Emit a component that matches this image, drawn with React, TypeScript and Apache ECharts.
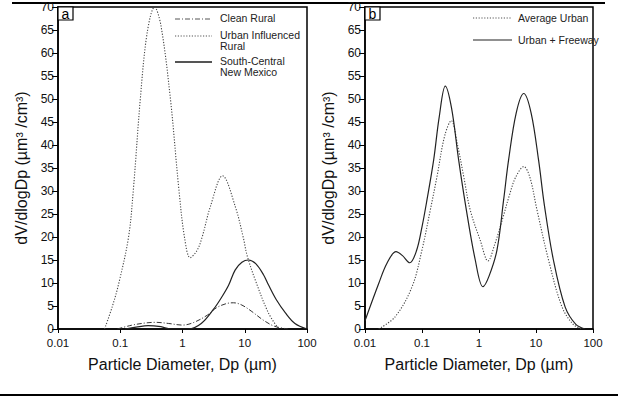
import React, { useEffect, useRef } from "react";
import * as echarts from "echarts";

// Panel a: [Dp (µm), dV/dlogDp]
const cleanRural: [number, number][] = [
  [0.09, 0], [0.15, 0.8], [0.25, 1.3], [0.37, 1.45], [0.6, 1.2], [1.0, 0.85],
  [1.5, 1.4], [2.5, 3.0], [3.5, 4.6], [5, 5.5], [6.6, 5.7], [9, 5.2],
  [13, 3.8], [20, 1.9], [30, 0.6], [50, 0],
];
const urbanInfluencedRural: [number, number][] = [
  [0.056, 0], [0.075, 5], [0.095, 10], [0.136, 20], [0.164, 31], [0.21, 50],
  [0.27, 64.3], [0.356, 70], [0.45, 66], [0.64, 50], [0.865, 31], [1.08, 19.8],
  [1.33, 15.5], [1.7, 17], [2.05, 19.8], [2.8, 26.6], [4.4, 33.3], [7.05, 26.6],
  [9.5, 19.8], [10.9, 16], [14.8, 10.6], [24, 3.5], [35, 0],
];
const southCentralNM: [number, number][] = [
  [0.12, 0], [0.18, 0.4], [0.28, 0.75], [0.45, 0.5], [0.65, 0], [1.25, 0],
  [2, 1.2], [3.16, 4.3], [4.3, 7], [5.5, 9.5], [7, 12.8], [9, 14.5],
  [11.5, 15], [15, 14.2], [20, 11.8], [24, 9.6], [32, 6.4], [45, 3.5], [64, 1.2], [100, 0],
];

// Panel b
const averageUrban: [number, number][] = [
  [0.0174, 0], [0.034, 2.7], [0.067, 9.2], [0.1, 17.2], [0.14, 25.9], [0.183, 33.1],
  [0.25, 42], [0.327, 45.3], [0.42, 40], [0.54, 33.1], [0.7, 25.9], [1.05, 19.3],
  [1.44, 14.8], [1.9, 18.5], [2.6, 24], [3.4, 29], [4.4, 33], [6.1, 35.3], [7.8, 33],
  [10.4, 25.9], [16.6, 15], [28.6, 4.8], [45, 1], [64, 0],
];
const urbanFreeway: [number, number][] = [
  [0.01, 1.8], [0.0174, 9.9], [0.0243, 14.3], [0.035, 16.8], [0.045, 16], [0.061, 14.4],
  [0.08, 17], [0.1, 22.2], [0.122, 28], [0.16, 36.7], [0.2, 46], [0.256, 52.8],
  [0.33, 48], [0.44, 36.7], [0.58, 27], [0.86, 15], [1.17, 9.2], [1.5, 11.5],
  [2.07, 17.2], [2.7, 28], [3.3, 36.7], [4.5, 47], [6.1, 51.2], [8.2, 47],
  [11.1, 36.7], [14, 27], [20.2, 15], [32.4, 4.8], [50, 1], [73, 0],
];

const xTickLabels: Record<string, string> = { "-2": "0.01", "-1": "0.1", "0": "1", "1": "10", "2": "100" };
const panelLabels = ["a", "b"];
const legendA = ["Clean Rural", "Urban Influenced\nRural", "South-Central\nNew Mexico"];
const legendB = ["Average Urban", "Urban + Freeway"];

const FONT = "Liberation Sans, Arial, sans-serif";

export default function App() {
  const ref = useRef<HTMLDivElement>(null);
  useEffect(() => {
    document.body.style.margin = "0";
    const chart = echarts.init(ref.current!, undefined, { renderer: "svg" });
    const grids = [
      { left: 58, top: 7, width: 249, height: 322 },
      { left: 365, top: 7, width: 228, height: 322 },
    ];
    const xAxis = grids.map((_, i) => ({
      type: "log" as const,
      gridIndex: i,
      logBase: 10,
      min: 0.01,
      max: 100,
      interval: 1,
      name: "Particle Diameter, Dp (µm)",
      nameLocation: "middle" as const,
      nameGap: 27,
      nameTextStyle: { fontFamily: FONT, fontSize: 16, color: "#111" },
      axisLine: { show: true, lineStyle: { color: "#000", width: 1.5 } },
      axisTick: { show: true, inside: false, length: 4, lineStyle: { color: "#000" } },
      minorTick: { show: false },
      splitLine: { show: false },
      axisLabel: {
        fontFamily: FONT, fontSize: 11.5, color: "#111", margin: 8,
        formatter: (v: number) => {
          const e = Math.round(Math.log10(v));
          return xTickLabels[String(e)] ?? String(v);
        },
      },
    }));
    const yAxis = grids.map((_, i) => ({
      type: "value" as const,
      gridIndex: i,
      min: 0,
      max: 70,
      interval: 5,
      name: "dV/dlogDp (µm³ /cm³)",
      nameLocation: "middle" as const,
      nameGap: 29,
      nameRotate: 90,
      nameTextStyle: { fontFamily: FONT, fontSize: 16, color: "#111" },
      axisLine: { show: true, lineStyle: { color: "#000", width: 1.5 } },
      axisTick: { show: true, inside: false, length: 6, lineStyle: { color: "#000" } },
      splitLine: { show: false },
      axisLabel: { fontFamily: FONT, fontSize: 12, color: "#111", margin: 4 },
    }));
    const mk = (name: string, data: [number, number][], idx: number, type: any, color: string, width: number) => ({
      name,
      type: "line" as const,
      xAxisIndex: idx,
      yAxisIndex: idx,
      data,
      smooth: 0.35,
      showSymbol: false,
      lineStyle: { color, width, type },
    });
    const series = [
      mk("Clean Rural", cleanRural, 0, [5, 2, 1, 2], "#333", 1),
      mk("Urban Influenced Rural", urbanInfluencedRural, 0, [1.2, 1.6], "#444", 1.1),
      mk("South-Central New Mexico", southCentralNM, 0, "solid", "#222", 1.2),
      mk("Average Urban", averageUrban, 1, [1.2, 1.6], "#444", 1.1),
      mk("Urban + Freeway", urbanFreeway, 1, "solid", "#222", 1.2),
    ];
    const legendStyles: any[] = [
      { type: [5, 2, 1, 2], color: "#555", w: 1 },
      { type: [1.2, 1.6], color: "#555", w: 1.1 },
      { type: "solid", color: "#555", w: 2 },
    ];
    const legendStylesB: any[] = [
      { type: [1.2, 1.6], color: "#555", w: 1.1 },
      { type: "solid", color: "#222", w: 1.2 },
    ];
    const legendAY = [19, 36, 62];
    const legendBY = [18, 40];
    const graphic: any[] = [
      { type: "line", shape: { x1: 12, y1: 3, x2: 605, y2: 3 }, style: { stroke: "#000", lineWidth: 2 } },
      { type: "line", shape: { x1: 0, y1: 395, x2: 618, y2: 395 }, style: { stroke: "#000", lineWidth: 2 } },
    ];
    panelLabels.forEach((lab, i) => {
      const g = grids[i];
      graphic.push({ type: "rect", shape: { x: g.left, y: g.top, width: 15, height: 13 }, style: { fill: "#fff", stroke: "#000", lineWidth: 1.2 }, z: 10 });
      graphic.push({ type: "text", x: g.left + 7.5, y: g.top + 7, style: { text: lab, font: `14px ${FONT}`, fill: "#000", align: "center", verticalAlign: "middle" }, z: 11 });
    });
    legendA.forEach((t, i) => {
      const s = legendStyles[i];
      graphic.push({ type: "line", shape: { x1: 175, y1: legendAY[i], x2: 212, y2: legendAY[i] }, style: { stroke: s.color, lineWidth: s.w, lineDash: s.type === "solid" ? null : s.type } });
      graphic.push({ type: "text", x: 220, y: legendAY[i] - 6, style: { text: t, font: `10.5px ${FONT}`, fill: "#222", lineHeight: 10.5 } });
    });
    legendB.forEach((t, i) => {
      const s = legendStylesB[i];
      graphic.push({ type: "line", shape: { x1: 473, y1: legendBY[i], x2: 512, y2: legendBY[i] }, style: { stroke: s.color, lineWidth: s.w, lineDash: s.type === "solid" ? null : s.type } });
      graphic.push({ type: "text", x: 518, y: legendBY[i] - 6, style: { text: t, font: `10.5px ${FONT}`, fill: "#222" } });
    });
    chart.setOption({
      animation: false,
      backgroundColor: "#fff",
      grid: grids.map((g) => ({ ...g, show: true, borderColor: "#000", borderWidth: 1.5, backgroundColor: "transparent" })),
      xAxis,
      yAxis,
      series,
      graphic,
    });
    return () => chart.dispose();
  }, []);
  return <div ref={ref} style={{ width: 618, height: 396 }} />;
}
